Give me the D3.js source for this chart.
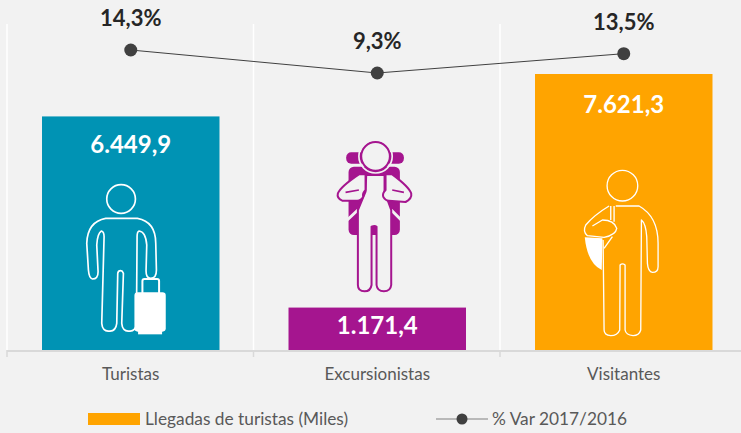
<!DOCTYPE html>
<html>
<head>
<meta charset="utf-8">
<script src="https://cdn.jsdelivr.net/npm/d3@7"></script>
<style>
  html, body { margin: 0; padding: 0; background: #f2f2f2; }
  svg { display: block; font-family: Lato, sans-serif; }
</style>
</head>
<body>
<svg id="chart" width="741" height="433"></svg>
<script>
const categories = ['Turistas', 'Excursionistas', 'Visitantes'];
const arrivals = [6449.9, 1171.4, 7621.3];
const arrivalLabels = ['6.449,9', '1.171,4', '7.621,3'];
const variation = [14.3, 9.3, 13.5];
const variationLabels = ['14,3%', '9,3%', '13,5%'];
const barColors = ['#0093b4', '#a5158f', '#ffa400'];
const legendBar = 'Llegadas de turistas (Miles)';
const legendLine = '% Var 2017/2016';

const svg = d3.select('#chart');

const x = d3.scaleBand().domain(categories).range([7.5, 747]).paddingInner(0.28).paddingOuter(0.14);
const center = d => x(d) + x.bandwidth() / 2;
const yBar = d3.scaleLinear().domain([0, 7621.3]).range([350, 74]);
const yLine = d3.scaleLinear().domain([9.3, 14.3]).range([73, 50]);

const slots = d3.range(categories.length + 1).map(i => 7 + i * 246.5);

// gridlines
svg.append('g').selectAll('line').data(slots).enter().append('line')
    .attr('x1', d => d).attr('x2', d => d)
    .attr('y1', 24).attr('y2', 350)
    .attr('stroke', '#ffffff').attr('stroke-width', 1.5);

// bars
svg.append('g').selectAll('rect').data(categories).enter().append('rect')
    .attr('x', d => x(d))
    .attr('width', x.bandwidth())
    .attr('y', (d, i) => yBar(arrivals[i]))
    .attr('height', (d, i) => 350 - yBar(arrivals[i]))
    .attr('fill', (d, i) => barColors[i]);

// axis
svg.append('line').attr('x1', 7).attr('x2', 741).attr('y1', 351).attr('y2', 351)
    .attr('stroke', '#d9d9d9').attr('stroke-width', 2);
svg.append('g').selectAll('line').data(slots).enter().append('line')
    .attr('x1', d => d).attr('x2', d => d)
    .attr('y1', 350).attr('y2', 357)
    .attr('stroke', '#d9d9d9').attr('stroke-width', 1.5);
svg.append('g').selectAll('text').data(categories).enter().append('text')
    .attr('x', center).attr('y', 380)
    .attr('text-anchor', 'middle')
    .attr('font-size', 17).attr('fill', '#595959')
    .text(d => d);

// pictograms, drawn in crop coordinates (3x) and anchored on the bars
const icon = (cat, dx, dy) => svg.append('g')
    .attr('transform', `translate(${center(cat) + dx},${dy}) scale(${1 / 3})`)
    .attr('stroke-linejoin', 'round');

const tourist = icon('Turistas', -90, 170);
tourist.append('circle').attr('cx', 241).attr('cy', 87).attr('r', 43)
    .attr('fill', 'none').attr('stroke', '#fff').attr('stroke-width', 5);
tourist.append('path')
    .attr('d', 'M195,145 L290,145 Q345,155 345,220 L347,300 Q347,325 330,325 Q315,325 316,300 L318,225 Q315,185 295,183 Q289,185 289,200 L287,460 Q285,485 265,483 Q245,485 243,460 L248,310 Q245,302 240,302 Q232,302 231,310 L228,460 Q225,485 205,483 Q185,485 183,460 L190,200 Q190,185 182,183 Q170,190 168,225 L172,305 Q172,327 155,327 Q145,325 143,300 L138,220 Q140,155 195,145Z')
    .attr('fill', 'none').attr('stroke', '#fff').attr('stroke-width', 5);
tourist.append('rect').attr('x', 305).attr('y', 327).attr('width', 50).attr('height', 50).attr('rx', 6)
    .attr('fill', barColors[0]).attr('stroke', '#fff').attr('stroke-width', 6);
tourist.append('rect').attr('x', 281).attr('y', 367).attr('width', 94).attr('height', 118).attr('rx', 10)
    .attr('fill', '#fff');
tourist.append('rect').attr('x', 292).attr('y', 483).attr('width', 72).attr('height', 10).attr('fill', '#fff');

const hiker = icon('Excursionistas', -56.7, 130);
const hikerPurple = barColors[1];
hiker.append('rect').attr('x', 77).attr('y', 67).attr('width', 173).attr('height', 34).attr('rx', 15).attr('fill', hikerPurple);
hiker.append('rect').attr('x', 84).attr('y', 110).attr('width', 154).attr('height', 205).attr('rx', 16).attr('fill', hikerPurple);
// gaps that split the lower corners of the backpack
hiker.append('path').attr('d', 'M80,270 L112,240 M242,270 L212,240')
    .attr('stroke', '#f2f2f2').attr('stroke-width', 9).attr('fill', 'none');
hiker.append('path')
    .attr('d', 'M137,135 L192,135 L192,185 L212,240 L212,465 Q210,484 190,484 Q170,484 168,465 L168,290 Q163,286 153,290 L153,465 Q150,484 132,484 Q112,484 112,465 L112,240 L135,185Z')
    .attr('fill', '#f2f2f2').attr('stroke', hikerPurple).attr('stroke-width', 6);
hiker.append('path')
    .attr('d', 'M115,133 L135,133 L135,170 L135,180 Q125,190 128,200 Q122,212 110,212 L65,212 Q48,205 52,190 Q60,170 115,133Z')
    .attr('fill', '#f2f2f2').attr('stroke', hikerPurple).attr('stroke-width', 6);
hiker.append('path')
    .attr('d', 'M215,133 L195,133 L195,170 L195,180 Q185,190 188,200 Q195,212 205,212 L255,216 Q275,205 272,190 Q265,170 215,133Z')
    .attr('fill', '#f2f2f2').attr('stroke', hikerPurple).attr('stroke-width', 6);
hiker.append('path').attr('d', 'M75,187 L115,180 M215,180 L250,187')
    .attr('stroke', hikerPurple).attr('stroke-width', 5).attr('fill', 'none');
hiker.append('circle').attr('cx', 165).attr('cy', 79).attr('r', 43)
    .attr('fill', '#f2f2f2').attr('stroke', hikerPurple).attr('stroke-width', 6);
hiker.append('circle').attr('cx', 165).attr('cy', 79).attr('r', 50)
    .attr('fill', 'none').attr('stroke', '#f2f2f2').attr('stroke-width', 5);

const visitor = icon('Visitantes', -53, 160);
visitor.append('circle').attr('cx', 155).attr('cy', 77).attr('r', 46)
    .attr('fill', 'none').attr('stroke', '#fff').attr('stroke-width', 4);
visitor.append('path').attr('d', 'M42,232 L95,235 L93,330 Q50,310 42,232Z').attr('fill', '#fff');
visitor.append('path')
    .attr('d', 'M135,138 L205,138 Q262,170 262,250 L262,320 Q262,337 245,337 Q232,335 230,310 L228,230 Q225,190 212,180 L210,510 Q205,527 187,527 Q165,525 163,510 L163,315 Q155,308 148,315 L147,510 Q140,527 120,527 Q100,525 100,510 L97,240')
    .attr('fill', 'none').attr('stroke', '#fff').attr('stroke-width', 4);
visitor.append('path')
    .attr('d', 'M115,138 Q70,165 45,195 Q35,215 50,227 L100,232 Q135,225 138,205 Q130,180 95,180 L65,198 M120,138 L120,180 M130,138 L130,185 M100,265 L125,230')
    .attr('fill', 'none').attr('stroke', '#fff').attr('stroke-width', 4);

// bar value labels
const valueY = [153, 334, 113];
svg.append('g').selectAll('text').data(categories).enter().append('text')
    .attr('x', center)
    .attr('y', (d, i) => valueY[i])
    .attr('text-anchor', 'middle')
    .attr('font-size', 24).attr('font-weight', 700).attr('fill', '#fff')
    .text((d, i) => arrivalLabels[i]);

// variation line
const line = d3.line().x(d => center(d)).y((d, i) => yLine(variation[i]));
svg.append('path').datum(categories)
    .attr('d', line).attr('fill', 'none').attr('stroke', '#404040').attr('stroke-width', 1);
svg.append('g').selectAll('circle').data(categories).enter().append('circle')
    .attr('cx', center).attr('cy', (d, i) => yLine(variation[i])).attr('r', 6.5)
    .attr('fill', '#404040');
svg.append('g').selectAll('text').data(categories).enter().append('text')
    .attr('x', center)
    .attr('y', (d, i) => yLine(variation[i]) - 24)
    .attr('text-anchor', 'middle')
    .attr('font-size', 22).attr('font-weight', 700).attr('fill', '#262626')
    .text((d, i) => variationLabels[i]);

// legend
svg.append('rect').attr('x', 88).attr('y', 413).attr('width', 52).attr('height', 12).attr('fill', '#ffa400');
svg.append('text').attr('x', 145).attr('y', 425).attr('font-size', 17.3).attr('fill', '#595959').text(legendBar);
svg.append('line').attr('x1', 436).attr('x2', 488).attr('y1', 419).attr('y2', 419)
    .attr('stroke', '#a6a6a6').attr('stroke-width', 1.5);
svg.append('circle').attr('cx', 462).attr('cy', 419).attr('r', 5.5).attr('fill', '#404040');
svg.append('text').attr('x', 492).attr('y', 425).attr('font-size', 17.3).attr('fill', '#595959').text(legendLine);
</script>
</body>
</html>
